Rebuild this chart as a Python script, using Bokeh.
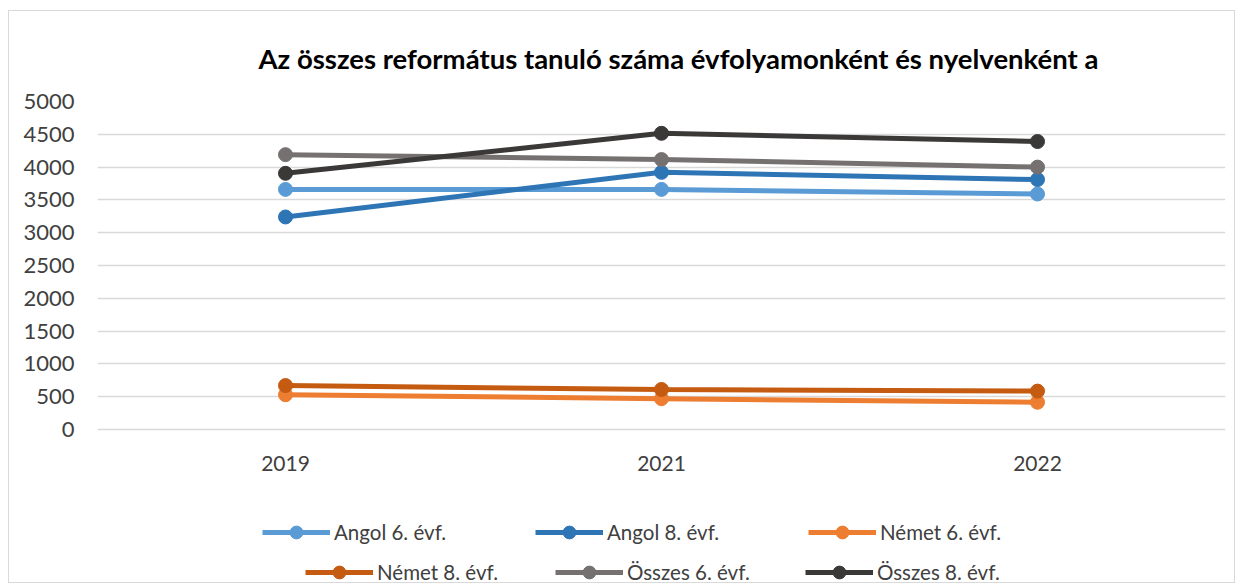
from bokeh.plotting import figure
from bokeh.models import Legend, LegendItem, Range1d, FactorRange, FixedTicker
from bokeh.embed import file_html
from bokeh.resources import INLINE

years = ["2019", "2021", "2022"]
angol6 = [3660, 3660, 3590]
angol8 = [3240, 3920, 3810]
nemet6 = [530, 470, 415]
nemet8 = [670, 610, 585]
osszes6 = [4190, 4115, 4000]
osszes8 = [3905, 4515, 4390]

series_names = ["Angol 6. évf.", "Angol 8. évf.", "Német 6. évf.",
                "Német 8. évf.", "Összes 6. évf.", "Összes 8. évf."]
series_values = [angol6, angol8, nemet6, nemet8, osszes6, osszes8]
colors = ["#5B9BD5", "#2E75B6", "#ED7D31", "#C55A11", "#767171", "#3B3838"]
y_ticks = [0, 500, 1000, 1500, 2000, 2500, 3000, 3500, 4000, 4500, 5000]

title_text = "Az összes református tanuló száma évfolyamonként és nyelvenként a"
FONT = "Lato"
TXT = "#404040"

# frame runs down to the bottom so the legend rows sit inside it;
# 0..5000 occupies the upper 328 px, the remaining 155 px hold axis labels and legend
y_top = 5000
y_bottom = -y_top * 155 / 328

p = figure(width=1227, height=573, x_range=FactorRange(*years),
           y_range=Range1d(y_bottom, y_top), output_backend="svg",
           toolbar_location=None,
           min_border_left=88, min_border_right=11, min_border_top=90,
           min_border_bottom=0, outline_line_color=None,
           styles={"border": "1px solid #d9d9d9", "margin-left": "8px",
                   "margin-top": "10px"})

p.title.text = title_text
p.title.text_font = FONT
p.title.text_font_size = "27.5px"
p.title.text_font_style = "bold"
p.title.text_color = "#000000"
p.title.align = "left"
p.title.offset = 161
p.title.standoff = 53

p.yaxis.ticker = FixedTicker(ticks=y_ticks)
p.xaxis.fixed_location = 0
for ax in (p.xaxis[0], p.yaxis[0]):
    ax.axis_line_color = None
    ax.major_tick_line_color = None
    ax.minor_tick_line_color = None
    ax.major_label_text_font = FONT
    ax.major_label_text_color = TXT
p.yaxis.major_label_text_font_size = "22px"
p.xaxis.major_label_text_font_size = "21px"
p.yaxis.major_label_standoff = 17
p.xaxis.major_label_standoff = 20

p.xgrid.grid_line_color = None
p.ygrid.grid_line_color = "#d9d9d9"
p.ygrid.grid_line_width = 1.5

items = []
for name, vals, col in zip(series_names, series_values, colors):
    l = p.line(years, vals, line_color=col, line_width=5)
    s = p.scatter(years, vals, size=14, fill_color=col, line_color=col)
    items.append(LegendItem(label=name, renderers=[l, s]))

def make_legend(its, x, y, lw):
    lg = Legend(items=its, orientation="horizontal", location=(x, y),
                padding=0, margin=0, spacing=0, glyph_width=68, glyph_height=32,
                label_height=32, label_width=lw, label_standoff=4,
                label_text_font=FONT, label_text_font_size="20.5px",
                label_text_color=TXT, border_line_color=None,
                background_fill_alpha=0)
    p.add_layout(lg, "center")

make_legend(items[:3], 165, 36, 201)
make_legend(items[3:], 208, -4, 178)

open("out.html", "w").write(file_html(p, INLINE))
